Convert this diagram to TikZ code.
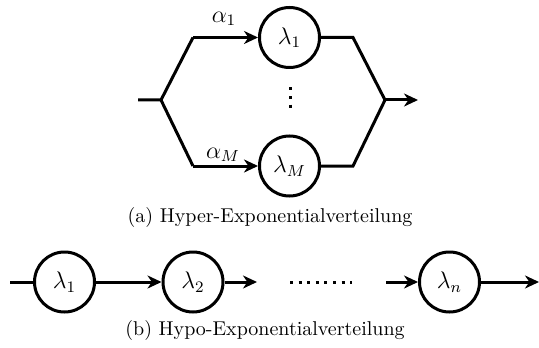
\documentclass[tikz,border=0pt]{standalone}
\usetikzlibrary{arrows.meta}
\begin{document}
\begin{tikzpicture}[x=0.5pt,y=-0.5pt,
  wire/.style={line width=1.5pt, line join=miter},
  arr/.style={wire, -{Stealth[length=7pt,width=6.5pt,inset=2.2pt]}},
  dotrow/.style={line width=1.5pt, dash pattern=on 1.5pt off 2.8pt},
  rate/.style={circle, draw, line width=1.5pt, minimum size=30pt, inner sep=0pt, font=\fontsize{11.5}{14}\selectfont},
  lbl/.style={font=\fontsize{11.5}{14}\selectfont, inner sep=0pt},
  captext/.style={font=\fontsize{10}{12}\selectfont, inner sep=0pt}]
\useasboundingbox (0,0) rectangle (539,347);
% (a) hyper-exponential
\coordinate (ain) at (138,100);
\coordinate (split) at (161,100);
\coordinate (tl) at (193,37.5);
\coordinate (bl) at (193,166);
\coordinate (tr) at (353,37.5);
\coordinate (br) at (353,166);
\coordinate (merge) at (385,100);
\coordinate (aout) at (418,100);
\node[rate] (l1) at (289.5,37.5) {$\lambda_1$};
\node[rate] (lM) at (289.5,166) {$\lambda_M$};
\draw[wire] (ain) -- (split) -- (tl);
\draw[wire] (split) -- (bl);
\draw[arr] (tl) -- (l1);
\draw[arr] (bl) -- (lM);
\draw[wire] (l1) -- (tr) -- (merge) -- (br) -- (lM);
\draw[arr] (merge) -- (aout);
\node[lbl] (a1) at (224,19) {$\alpha_1$};
\node[lbl] (aM) at (223,155) {$\alpha_M$};
\coordinate (v1) at (290,87.5);
\coordinate (v2) at (290,108);
\draw[dotrow] (v1) -- (v2);
\node[captext] (capa) at (270,217) {(a)\ Hyper-Exponentialverteilung};
% (b) hypo-exponential
\coordinate (bin) at (10,282);
\node[rate] (h1) at (64.5,282) {$\lambda_1$};
\node[rate] (h2) at (193,282) {$\lambda_2$};
\node[rate] (hn) at (449.5,282) {$\lambda_n$};
\coordinate (h2out) at (257,282);
\coordinate (d1) at (290,282);
\coordinate (d2) at (352,282);
\coordinate (hnin) at (386,282);
\coordinate (bout) at (539,282);
\draw[wire] (bin) -- (h1);
\draw[arr] (h1) -- (h2);
\draw[arr] (h2) -- (h2out);
\draw[dotrow] (d1) -- (d2);
\draw[arr] (hnin) -- (hn);
\draw[arr] (hn) -- (bout);
\node[captext] (capb) at (265,330) {(b)\ Hypo-Exponentialverteilung};
\end{tikzpicture}
\end{document}
